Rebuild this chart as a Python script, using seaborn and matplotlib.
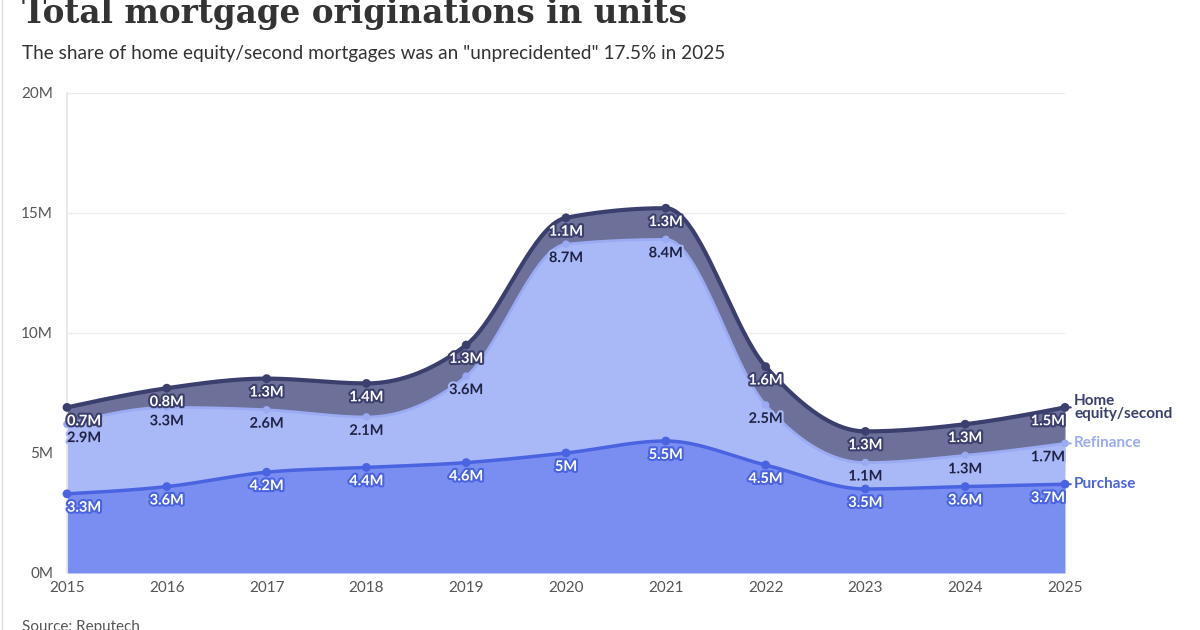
import numpy as np
import pandas as pd
import seaborn as sns
import matplotlib.pyplot as plt
import matplotlib.patheffects as pe
from matplotlib.lines import Line2D

# data (millions of units)
years = [2015, 2016, 2017, 2018, 2019, 2020, 2021, 2022, 2023, 2024, 2025]
purchase = [3.3, 3.6, 4.2, 4.4, 4.6, 5.0, 5.5, 4.5, 3.5, 3.6, 3.7]
refinance = [2.9, 3.3, 2.6, 2.1, 3.6, 8.7, 8.4, 2.5, 1.1, 1.3, 1.7]
home_equity = [0.7, 0.8, 1.3, 1.4, 1.3, 1.1, 1.3, 1.6, 1.3, 1.3, 1.5]
series_names = ['Purchase', 'Refinance', 'Home\nequity/second']
y_ticks = [0, 5, 10, 15, 20]
y_ticklabels = ['0M', '5M', '10M', '15M', '20M']

c_pur_fill, c_pur_line = '#7a8ef2', '#4a63e0'
c_ref_fill, c_ref_line = '#a9b8f6', '#9aabf3'
c_he_fill, c_he_line = '#6d7199', '#3b3f6e'


def monotone(x, y, n=40):
    # monotone cubic (like d3 curveMonotoneX) just for drawing smooth edges
    x = np.asarray(x, float)
    y = np.asarray(y, float)
    h = np.diff(x)
    s = np.diff(y) / h
    m = np.zeros_like(y)
    for i in range(1, len(y) - 1):
        s0, s1 = s[i - 1], s[i]
        p = (s0 * h[i] + s1 * h[i - 1]) / (h[i - 1] + h[i])
        m[i] = (np.sign(s0) + np.sign(s1)) * min(abs(s0), abs(s1), 0.5 * abs(p))
    m[0] = (3 * s[0] - m[1]) / 2
    m[-1] = (3 * s[-1] - m[-2]) / 2
    xs, ys = [], []
    for i in range(len(x) - 1):
        t = np.linspace(0, 1, n, endpoint=(i == len(x) - 2))
        h00 = 2 * t**3 - 3 * t**2 + 1
        h10 = t**3 - 2 * t**2 + t
        h01 = -2 * t**3 + 3 * t**2
        h11 = t**3 - t**2
        xs.append(x[i] + t * h[i])
        ys.append(h00 * y[i] + h10 * h[i] * m[i] + h01 * y[i + 1] + h11 * h[i] * m[i + 1])
    return np.concatenate(xs), np.concatenate(ys)


df = pd.DataFrame({'year': years, 'purchase': purchase,
                   'refinance': refinance, 'home_equity': home_equity})
df['lvl1'] = df['purchase']
df['lvl2'] = df['lvl1'] + df['refinance']
df['lvl3'] = df['lvl2'] + df['home_equity']

sns.set_theme(style='white')
plt.rcParams['font.family'] = ['Lato', 'DejaVu Sans']

fig = plt.figure(figsize=(12, 6.3), dpi=100)
ax = fig.add_axes([67 / 1200, 1 - 573 / 630, (1065 - 67) / 1200, 480 / 630])

xs, y1 = monotone(df['year'], df['lvl1'])
_, y2 = monotone(df['year'], df['lvl2'])
_, y3 = monotone(df['year'], df['lvl3'])

ax.fill_between(xs, 0, y1, color=c_pur_fill, lw=0, zorder=2)
ax.fill_between(xs, y1, y2, color=c_ref_fill, lw=0, zorder=2)
ax.fill_between(xs, y2, y3, color=c_he_fill, lw=0, zorder=2)
ax.plot(xs, y2, color=c_ref_line, lw=2, zorder=3)
ax.plot(xs, y1, color=c_pur_line, lw=2.5, zorder=3)
ax.plot(xs, y3, color=c_he_line, lw=3, zorder=3)

sns.scatterplot(data=df, x='year', y='lvl1', color=c_pur_line, s=40,
                edgecolor='none', ax=ax, zorder=4, clip_on=False)
sns.scatterplot(data=df, x='year', y='lvl2', color=c_ref_line, s=30,
                edgecolor='none', ax=ax, zorder=4, clip_on=False)
sns.scatterplot(data=df, x='year', y='lvl3', color=c_he_line, s=40,
                edgecolor='none', ax=ax, zorder=4, clip_on=False)


def fmt(v):
    return f'{v:g}M'


layers = [('lvl1', 'purchase', 'white', c_pur_line),
          ('lvl2', 'refinance', '#1f2244', c_ref_fill),
          ('lvl3', 'home_equity', 'white', c_he_line)]
n = len(years)
for lvl, col, tc, halo in layers:
    for i in range(n):
        ha = 'left' if i == 0 else ('right' if i == n - 1 else 'center')
        ax.annotate(fmt(df[col][i]), xy=(df['year'][i], df[lvl][i]),
                    xytext=(0, -10), textcoords='offset points',
                    ha=ha, va='center', fontsize=10.5, fontweight='bold',
                    color=tc, zorder=6,
                    path_effects=[pe.withStroke(linewidth=3, foreground=halo)])

# end labels on the right
end_labels = [('lvl3', series_names[2], c_he_line),
              ('lvl2', series_names[1], c_ref_line),
              ('lvl1', series_names[0], c_pur_line)]
for lvl, name, c in end_labels:
    ax.annotate(name, xy=(years[-1], df[lvl].iloc[-1]), xytext=(6.5, 0),
                textcoords='offset points', ha='left', va='center',
                fontsize=11, fontweight='bold', color=c,
                linespacing=0.95, annotation_clip=False,
                arrowprops=dict(arrowstyle='-', color=c, lw=1.5,
                                shrinkA=0, shrinkB=0))

ax.set_xlim(years[0], years[-1])
ax.set_ylim(0, 20)
ax.set_xticks(years)
ax.set_xticklabels([str(y) for y in years])
ax.set_yticks(y_ticks)
ax.set_yticklabels(y_ticklabels)
ax.tick_params(axis='both', labelsize=11, colors='#555555', length=0)
ax.tick_params(axis='x', pad=6)
ax.tick_params(axis='y', pad=10)
ax.grid(axis='y', color='#ececec', lw=1)
ax.set_axisbelow(True)
for side in ['top', 'right', 'bottom']:
    ax.spines[side].set_visible(False)
ax.spines['left'].set_color('#e6e6e6')
ax.set_xlabel('')
ax.set_ylabel('')

fig.text(22 / 1200, 1 - 23 / 630, 'Total mortgage originations in units',
         family=['DejaVu Serif'], fontsize=23.5, fontweight='bold',
         color='#333333', va='baseline', ha='left')
fig.text(22 / 1200, 1 - 59 / 630,
         'The share of home equity/second mortgages was an "unprecidented" 17.5% in 2025',
         fontsize=13.7, color='#333333', va='baseline', ha='left')
fig.text(22 / 1200, 1 - 620 / 630, 'Source: Reputech', fontsize=11,
         color='#555555', va='top', ha='left')
fig.add_artist(Line2D([2 / 1200, 2 / 1200], [0, 1], color='#dddddd', lw=1))

fig.savefig('out.png', dpi=100)
